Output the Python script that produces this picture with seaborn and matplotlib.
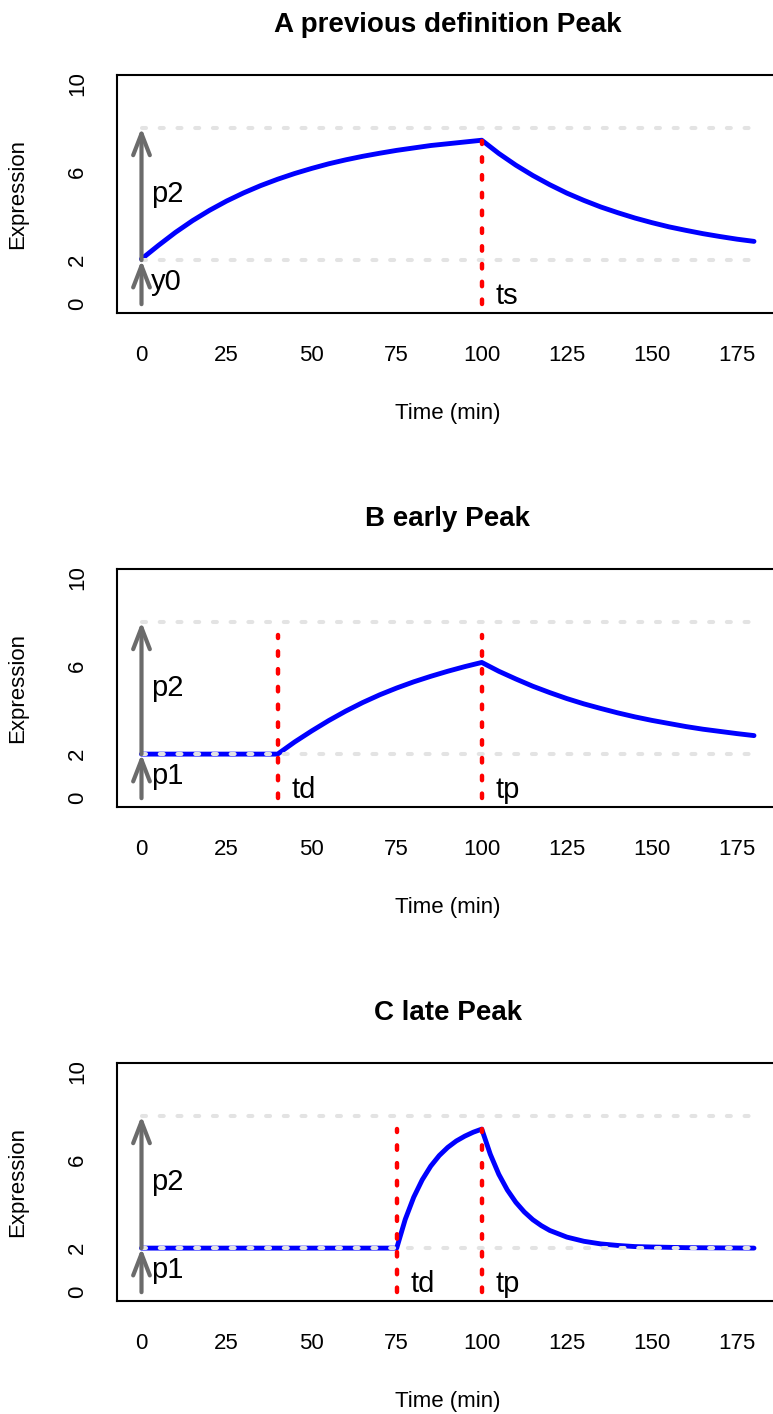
import matplotlib
matplotlib.use("Agg")
import matplotlib.pyplot as plt
import seaborn as sns
import pandas as pd

# ---------------- data ----------------
titles = ["A previous definition Peak", "B early Peak", "C late Peak"]

time_A = [0, 5, 10, 15, 20, 25, 30, 35, 40, 45, 50, 55, 60, 65, 70, 75, 80, 85, 90, 95, 100,
          105, 110, 115, 120, 125, 130, 135, 140, 145, 150, 155, 160, 165, 170, 175, 180]
expr_A = [2.05, 2.67, 3.26, 3.79, 4.26, 4.68, 5.05, 5.38, 5.67, 5.93, 6.16, 6.37, 6.55, 6.71,
          6.85, 6.98, 7.09, 7.20, 7.28, 7.36, 7.44,
          6.84, 6.31, 5.84, 5.42, 5.04, 4.71, 4.41, 4.15, 3.91, 3.70, 3.51, 3.35, 3.20, 3.07,
          2.95, 2.85]

time_B = [0, 40, 45, 50, 55, 60, 65, 70, 75, 80, 85, 90, 95, 100,
          105, 110, 115, 120, 125, 130, 135, 140, 145, 150, 155, 160, 165, 170, 175, 180]
expr_B = [2.0, 2.0, 2.55, 3.05, 3.52, 3.95, 4.34, 4.69, 5.00, 5.28, 5.53, 5.76, 5.97, 6.16,
          5.76, 5.41, 5.08, 4.79, 4.52, 4.28, 4.07, 3.87, 3.69, 3.53, 3.39, 3.25, 3.13, 3.03,
          2.93, 2.84]

time_C = [0, 75, 77.5, 80, 82.5, 85, 87.5, 90, 92.5, 95, 97.5, 100,
          102.5, 105, 107.5, 110, 112.5, 115, 117.5, 120, 125, 130, 135, 140, 145, 150,
          160, 170, 180]
expr_C = [2.0, 2.0, 3.30, 4.31, 5.10, 5.72, 6.20, 6.57, 6.86, 7.08, 7.26, 7.40,
          6.26, 5.35, 4.64, 4.08, 3.64, 3.29, 3.02, 2.80, 2.50, 2.31, 2.19, 2.12, 2.07, 2.05,
          2.02, 2.01, 2.00]

vline_times = [[100], [40, 100], [75, 100]]
vline_labels = [["ts"], ["td", "tp"], ["td", "tp"]]
arrow_labels = [["y0", "p2"], ["p1", "p2"], ["p1", "p2"]]

base_level = 2
top_level = 8
vline_top = 7.4
guide_span = [0, 180]

x_ticks = [0, 25, 50, 75, 100, 125, 150, 175]
y_ticks = [0, 2, 4, 6, 8, 10]
y_tick_labels = ["0", "2", "", "6", "", "10"]

# ---------------- style ----------------
sns.set_theme(style="white")
plt.rcParams["font.family"] = ["Liberation Sans", "DejaVu Sans"]
plt.rcParams["text.color"] = "black"

BLUE = "#0000ff"
RED = "#ff0000"
GUIDE = "#e3e3e3"
ARROW = "#6b6b6b"

fig = plt.figure(figsize=(7.73, 14.14), dpi=100)

W, H = 773.0, 1414.0
ax_left = 117.0 / W
ax_width = (778.5 - 117.0) / W
ax_bottoms_px = [313.0, 807.0, 1301.0]
ax_height = 238.0 / H

times = [time_A, time_B, time_C]
exprs = [expr_A, expr_B, expr_C]

for i in range(3):
    ax = fig.add_axes([ax_left, 1 - ax_bottoms_px[i] / H, ax_width, ax_height])
    df = pd.DataFrame({"Time": times[i], "Expression": exprs[i]})
    sns.lineplot(data=df, x="Time", y="Expression", ax=ax, color=BLUE, lw=3.5,
                 sort=False, estimator=None, zorder=2, solid_capstyle="round")

    # guide lines
    for lvl in (base_level, top_level):
        ax.plot(guide_span, [lvl, lvl], color=GUIDE, lw=2.9, dashes=(1.0, 3.4),
                dash_capstyle="round", zorder=3)

    # red vertical lines + labels
    for t, lab in zip(vline_times[i], vline_labels[i]):
        ax.plot([t, t], [0, vline_top], color=RED, lw=3.2, dashes=(1.0, 3.0),
                dash_capstyle="round", zorder=4)
        ax.text(t + 4.0, 0.38, lab, fontsize=21, ha="left", va="center", zorder=6,
                color="black")

    # gray arrows
    astyle = "->, head_length=15.5, head_width=6"
    ax.annotate("", xy=(0, base_level), xytext=(0, 0),
                arrowprops=dict(arrowstyle=astyle, mutation_scale=1, color=ARROW, lw=3.0,
                                shrinkA=0, shrinkB=0), zorder=5)
    ax.annotate("", xy=(0, top_level), xytext=(0, base_level),
                arrowprops=dict(arrowstyle=astyle, mutation_scale=1, color=ARROW, lw=3.0,
                                shrinkA=0, shrinkB=0), zorder=5)
    ax.text(2.8, 1.0, arrow_labels[i][0], fontsize=21, ha="left", va="center", zorder=6,
            color="black")
    ax.text(2.8, 5.0, arrow_labels[i][1], fontsize=21, ha="left", va="center", zorder=6,
            color="black")

    ax.set_xlim(-7.2, 187.2)
    ax.set_ylim(-0.4, 10.4)
    ax.set_xticks(x_ticks)
    ax.set_xticklabels([str(v) for v in x_ticks])
    ax.set_yticks(y_ticks)
    ax.set_yticklabels(y_tick_labels, rotation=90, va="center")
    ax.tick_params(axis="both", direction="out", length=10, width=1.4, labelsize=16,
                   color="black", labelcolor="black")
    ax.tick_params(axis="x", pad=13)
    ax.tick_params(axis="y", pad=11)
    for sp in ax.spines.values():
        sp.set_visible(True)
        sp.set_color("black")
        sp.set_linewidth(1.5)
    ax.set_xlabel("Time (min)", fontsize=16, labelpad=27, color="black")
    ax.set_ylabel("Expression", fontsize=16, labelpad=28, color="black")
    ax.set_title(titles[i], fontsize=20, fontweight="bold", pad=31, color="black")
    ax.grid(False)

fig.savefig("out.png", dpi=100)
